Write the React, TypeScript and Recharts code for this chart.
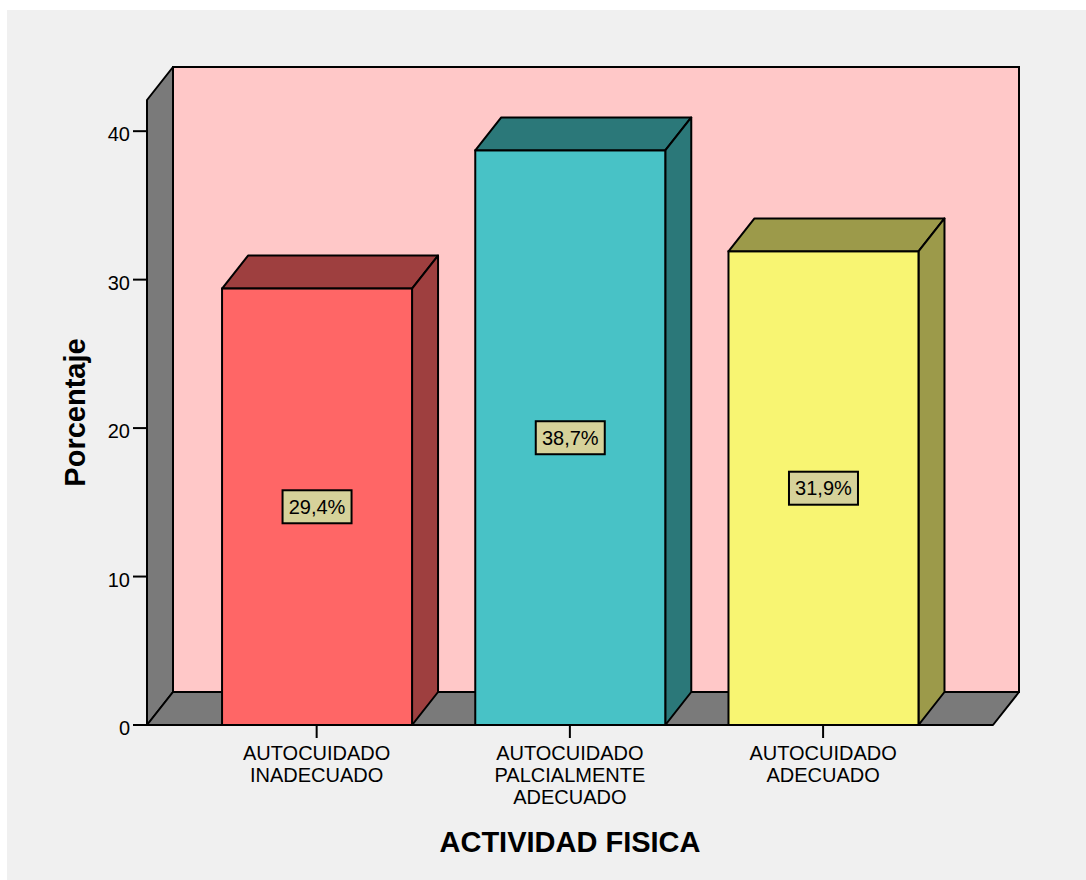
import React from 'react';
import { BarChart, Bar, XAxis, YAxis, ReferenceArea, LabelList, Cell } from 'recharts';

// Category positions along the horizontal axis and their labels
const categoryIndex = [0, 1, 2];
const categoryLabels = [
  ['AUTOCUIDADO', 'INADECUADO'],
  ['AUTOCUIDADO', 'PALCIALMENTE', 'ADECUADO'],
  ['AUTOCUIDADO', 'ADECUADO'],
];
// Percentage per category
const percentValues = [29.4, 38.7, 31.9];
// Vertical axis
const yTicks = [0, 10, 20, 30, 40];
const Y_MAX = 42.1;

// Colours: front face / shaded side & top
const frontColors = ['#ff6666', '#48c2c6', '#f8f572'];
const sideColors = ['#9e3f3f', '#2b7879', '#9c9a4a'];

const data = categoryIndex.map((idx, i) => ({
  idx,
  value: percentValues[i],
}));

// Depth of the pseudo-3D extrusion
const DX = 26;
const DY = 33;
const FONT = '"Liberation Sans", Arial, Helvetica, sans-serif';
const STROKE = '#000';
const SW = 2;

const Walls = (props: any) => {
  const { x, y, width, height } = props;
  const b = y + height;
  return (
    <g>
      <rect x={x + DX} y={y - DY} width={width} height={height} fill="#ffc8c8" stroke={STROKE} strokeWidth={SW} />
      <polygon
        points={`${x},${y} ${x + DX},${y - DY} ${x + DX},${b - DY} ${x},${b}`}
        fill="#7a7a7a"
        stroke={STROKE}
        strokeWidth={SW}
        strokeLinejoin="round"
      />
      <polygon
        points={`${x},${b} ${x + DX},${b - DY} ${x + width + DX},${b - DY} ${x + width},${b}`}
        fill="#7a7a7a"
        stroke={STROKE}
        strokeWidth={SW}
        strokeLinejoin="round"
      />
    </g>
  );
};

const Bar3D = (props: any) => {
  const { x, y, width, height, index, fill } = props;
  const side = sideColors[index];
  const r = x + width;
  const b = y + height;
  return (
    <g>
      <polygon
        points={`${x},${y} ${x + DX},${y - DY} ${r + DX},${y - DY} ${r},${y}`}
        fill={side}
        stroke={STROKE}
        strokeWidth={SW}
        strokeLinejoin="round"
      />
      <polygon
        points={`${r},${y} ${r + DX},${y - DY} ${r + DX},${b - DY} ${r},${b}`}
        fill={side}
        stroke={STROKE}
        strokeWidth={SW}
        strokeLinejoin="round"
      />
      <rect x={x} y={y} width={width} height={height} fill={fill} stroke={STROKE} strokeWidth={SW} />
    </g>
  );
};

const ValueLabel = (props: any) => {
  const { x, y, width, height, value } = props;
  const cx = x + width / 2;
  const cy = y + height / 2;
  const text = `${Number(value).toFixed(1).replace('.', ',')}%`;
  const bw = 69;
  const bh = 33;
  return (
    <g>
      <rect x={cx - bw / 2} y={cy - bh / 2} width={bw} height={bh} fill="#d6d29a" stroke={STROKE} strokeWidth={SW} />
      <text x={cx} y={cy + 7} textAnchor="middle" fontSize={20} fontFamily={FONT} fill="#000">
        {text}
      </text>
    </g>
  );
};

const XTick = (props: any) => {
  const { x, y, payload } = props;
  const lines = categoryLabels[payload.value] || [];
  return (
    <text x={x} y={y} textAnchor="middle" fontSize={20} fontFamily={FONT} fill="#000">
      {lines.map((l, i) => (
        <tspan key={i} x={x} y={y + 20 + i * 22}>
          {l}
        </tspan>
      ))}
    </text>
  );
};

const YTick = (props: any) => {
  const { x, y, payload } = props;
  return (
    <text x={x} y={y + 10} textAnchor="end" fontSize={20} fontFamily={FONT} fill="#000">
      {payload.value}
    </text>
  );
};

const XTitle = (props: any) => {
  const { viewBox } = props;
  return (
    <text
      x={viewBox.x + viewBox.width / 2}
      y={viewBox.y + 127}
      textAnchor="middle"
      fontSize={29}
      fontWeight="bold"
      fontFamily={FONT}
      fill="#000"
    >
      ACTIVIDAD FISICA
    </text>
  );
};

const YTitle = (props: any) => {
  const { viewBox } = props;
  const cx = viewBox.x + 85;
  const cy = viewBox.y + viewBox.height / 2;
  return (
    <text
      x={0}
      y={0}
      transform={`translate(${cx},${cy}) rotate(-90)`}
      textAnchor="middle"
      fontSize={29}
      fontWeight="bold"
      fontFamily={FONT}
      fill="#000"
    >
      Porcentaje
    </text>
  );
};

export default function App() {
  return (
    <div style={{ position: 'absolute', left: 0, top: 0, width: 1086, height: 880, background: '#ffffff' }}>
      <div style={{ position: 'absolute', left: 7, top: 10, right: 0, bottom: 0, background: '#f0f0f0' }} />
      <div style={{ position: 'absolute', left: 0, top: 0 }}>
        <BarChart width={1086} height={880} data={data} margin={{ top: 100, right: 93, bottom: 0, left: 0 }}>
          <XAxis
            dataKey="idx"
            type="number"
            domain={[-0.67, 2.671]}
            ticks={categoryIndex}
            height={155}
            axisLine={false}
            tickLine={{ stroke: STROKE, strokeWidth: SW }}
            tickSize={13}
            tickMargin={2}
            tick={<XTick />}
            interval={0}
            allowDataOverflow
            label={<XTitle />}
          />
          <YAxis
            type="number"
            domain={[0, Y_MAX]}
            ticks={yTicks}
            width={147}
            axisLine={false}
            tickLine={{ stroke: STROKE, strokeWidth: SW }}
            tickSize={14}
            tickMargin={3}
            tick={<YTick />}
            allowDataOverflow
            label={<YTitle />}
          />
          <ReferenceArea y1={0} y2={Y_MAX} ifOverflow="visible" shape={<Walls />} />
          <Bar dataKey="value" barSize={190} isAnimationActive={false} shape={<Bar3D />}>
            {data.map((_, i) => (
              <Cell key={i} fill={frontColors[i]} />
            ))}
            <LabelList dataKey="value" content={<ValueLabel />} />
          </Bar>
        </BarChart>
      </div>
    </div>
  );
}
